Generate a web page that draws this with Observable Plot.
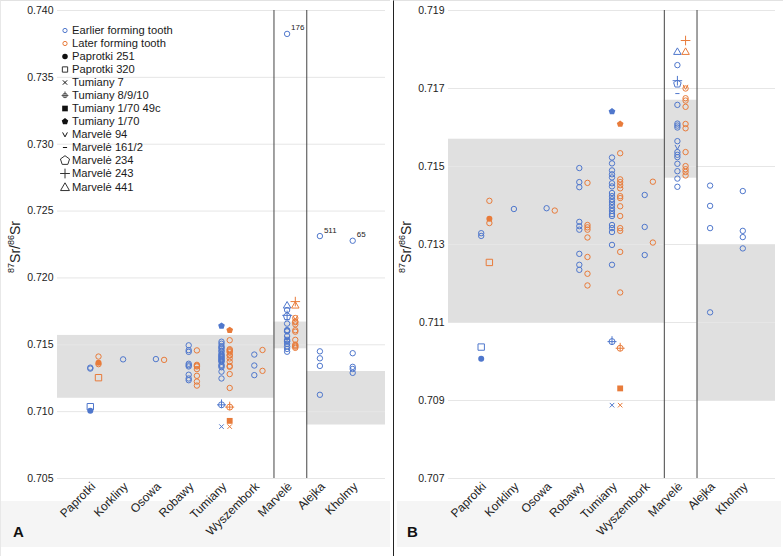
<!DOCTYPE html>
<html><head><meta charset="utf-8">
<script src="https://cdn.jsdelivr.net/npm/d3@7"></script>
<script src="https://cdn.jsdelivr.net/npm/@observablehq/plot@0.6"></script>
<style>
body{margin:0;background:#fff;font-family:"Liberation Sans",Arial,sans-serif;}
#wrap{position:relative;width:783px;height:556px;overflow:hidden;background:#fff}
.panel{position:absolute;top:0;height:556px;box-sizing:border-box}
#pA{left:0;width:390px;border-top:1px solid #e2e2e2;border-left:1px solid #e8e8e8}
#pB{left:393px;width:390px;border-left:1.5px solid #222;border-top:1px solid #e2e2e2}
.strip{position:absolute;left:0;right:0;top:500px;height:46px;background:#f5f5f5}
#pB .strip{left:3px;right:2px}
.panel svg{position:absolute;left:0;top:-1px;background:transparent;overflow:visible}
.letter{position:absolute;top:522px;font-weight:bold;font-size:15px;color:#111}
.ylab{position:absolute;font-size:14px;color:#222;transform:translate(-50%,-50%) rotate(-90deg);white-space:nowrap}
.ylab sup{font-size:9px;vertical-align:6px}
.legrow{position:absolute;left:0;height:13px;line-height:13px;display:flex;align-items:center;font-size:11.2px;color:#1a1a1a;white-space:nowrap}
.legrow svg{position:static;width:14px;height:13px;margin-right:0px}
</style></head>
<body><div id="wrap">
<div class="panel" id="pA"><div class="strip"></div></div>
<div class="panel" id="pB"><div class="strip"></div></div>
</div>
<script>
// ---------- data ----------
const categories = ["Paprotki","Korkliny","Osowa","Robawy","Tumiany","Wyszembork","Marvelė","Alejka","Kholmy"];
const yTicksA = [0.705,0.710,0.715,0.720,0.725,0.730,0.735,0.740];
const yTicksB = [0.707,0.709,0.711,0.713,0.715,0.717,0.719];

// earlier forming tooth, open circles: [site, 87Sr/86Sr]
const earlierCircles = [
 ["Paprotki",0.71329],["Paprotki",0.71322],
 ["Korkliny",0.71391],
 ["Osowa",0.71393],
 ["Robawy",0.71496],["Robawy",0.71460],["Robawy",0.71447],["Robawy",0.71358],["Robawy",0.71347],["Robawy",0.71338],["Robawy",0.71276],["Robawy",0.71248],["Robawy",0.71235],
 ["Tumiany",0.71523],["Tumiany",0.71508],["Tumiany",0.71490],["Tumiany",0.71480],["Tumiany",0.71472],["Tumiany",0.71457],["Tumiany",0.71449],["Tumiany",0.71432],["Tumiany",0.71424],["Tumiany",0.71416],["Tumiany",0.71409],["Tumiany",0.71401],["Tumiany",0.71393],["Tumiany",0.71386],["Tumiany",0.71378],["Tumiany",0.71373],["Tumiany",0.71350],["Tumiany",0.71342],["Tumiany",0.71332],["Tumiany",0.71299],["Tumiany",0.71248],
 ["Wyszembork",0.71427],["Wyszembork",0.71345],["Wyszembork",0.71273],
 ["Marvelė",0.73825],["Marvelė",0.71760],["Marvelė",0.71658],["Marvelė",0.71610],["Marvelė",0.71605],["Marvelė",0.71600],["Marvelė",0.71565],["Marvelė",0.71537],["Marvelė",0.71530],["Marvelė",0.71524],["Marvelė",0.71507],["Marvelė",0.71488],["Marvelė",0.71469],["Marvelė",0.71448],
 ["Alejka",0.72313],["Alejka",0.71451],["Alejka",0.71399],["Alejka",0.71342],["Alejka",0.71126],
 ["Kholmy",0.72278],["Kholmy",0.71437],["Kholmy",0.71335],["Kholmy",0.71319],["Kholmy",0.71290]
];
// later forming tooth, open circles
const laterCircles = [
 ["Paprotki",0.71412],["Paprotki",0.71355],
 ["Osowa",0.71387],
 ["Robawy",0.71458],["Robawy",0.71350],["Robawy",0.71344],["Robawy",0.71338],["Robawy",0.71318],["Robawy",0.71268],["Robawy",0.71225],["Robawy",0.71195],
 ["Tumiany",0.71534],["Tumiany",0.71467],["Tumiany",0.71460],["Tumiany",0.71452],["Tumiany",0.71444],["Tumiany",0.71424],["Tumiany",0.71419],["Tumiany",0.71398],["Tumiany",0.71373],["Tumiany",0.71342],["Tumiany",0.71335],["Tumiany",0.71281],["Tumiany",0.71177],
 ["Wyszembork",0.71461],["Wyszembork",0.71305],
 ["Marvelė",0.71700],["Marvelė",0.71675],["Marvelė",0.71669],["Marvelė",0.71653],["Marvelė",0.71609],["Marvelė",0.71598],["Marvelė",0.71537],["Marvelė",0.71501],["Marvelė",0.71493],["Marvelė",0.71486],["Marvelė",0.71477]
];
// individually marked samples: [sample, tooth, site, value]
const markedSamples = [
 ["Paprotki 251","earlier","Paprotki",0.71007],
 ["Paprotki 251","later","Paprotki",0.71366],
 ["Paprotki 320","earlier","Paprotki",0.71037],
 ["Paprotki 320","later","Paprotki",0.71254],
 ["Tumiany 7","earlier","Tumiany",0.70888],
 ["Tumiany 7","later","Tumiany",0.70888],
 ["Tumiany 8/9/10","earlier","Tumiany",0.71051],
 ["Tumiany 8/9/10","later","Tumiany",0.71034],
 ["Tumiany 1/70 49c","later","Tumiany",0.70931],
 ["Tumiany 1/70","earlier","Tumiany",0.71641],
 ["Tumiany 1/70","later","Tumiany",0.71609],
 ["Marvelė 94","earlier","Marvelė",0.71550],
 ["Marvelė 94","later","Marvelė",0.71704],
 ["Marvelė 161/2","earlier","Marvelė",0.71687],
 ["Marvelė 234","earlier","Marvelė",0.71712],
 ["Marvelė 243","earlier","Marvelė",0.71720],
 ["Marvelė 243","later","Marvelė",0.71823],
 ["Marvelė 441","earlier","Marvelė",0.71794],
 ["Marvelė 441","later","Marvelė",0.71794]
];
// labelled outliers: [site, value, sample id]
const outlierLabels = [["Marvelė",0.73825,"176"],["Alejka",0.72313,"511"],["Kholmy",0.72278,"65"]];
// local baseline ranges: [first site, last site, low, high]
const baselineRanges = [["Paprotki","Wyszembork",0.7110,0.7157],["Marvelė","Marvelė",0.7147,0.7167],["Alejka","Kholmy",0.7090,0.7130]];
const legendLabels = ["Earlier forming tooth","Later forming tooth","Paprotki 251","Paprotki 320","Tumiany 7","Tumiany 8/9/10","Tumiany 1/70 49c","Tumiany 1/70","Marvelė 94","Marvelė 161/2","Marvelė 234","Marvelė 243","Marvelė 441"];

// ---------- styles ----------
const BLUE = "#4f77cc", ORANGE = "#e87b3a";
const toothColor = {earlier: BLUE, later: ORANGE};
const toothOffset = {earlier: 0, later: 0.25};
const rad = s => Math.sqrt(s/Math.PI);
const symPentagon = {draw(c,s){const r=rad(s)*1.1;for(let k=0;k<5;k++){const a=-Math.PI/2+k*2*Math.PI/5;k?c.lineTo(r*Math.cos(a),r*Math.sin(a)):c.moveTo(r*Math.cos(a),r*Math.sin(a));}c.closePath();}};
const symVee = {draw(c,s){const r=rad(s);c.moveTo(-r*0.8,-r*0.7);c.lineTo(0,r*0.8);c.lineTo(r*0.8,-r*0.7);}};
const symDash = {draw(c,s){const r=rad(s);c.moveTo(-r*0.7,0);c.lineTo(r*0.7,0);}};
const symCross = {draw(c,s){const r=rad(s);c.moveTo(r,0);c.arc(0,0,r,0,2*Math.PI);c.moveTo(-r*1.5,0);c.lineTo(r*1.5,0);c.moveTo(0,-r*1.8);c.lineTo(0,r);}};
const symPlus = {draw(c,s){const r=rad(s)*1.2;c.moveTo(-r,0);c.lineTo(r,0);c.moveTo(0,-r);c.lineTo(0,r);}};
const symTimes = {draw(c,s){const r=rad(s)*0.75;c.moveTo(-r,-r);c.lineTo(r,r);c.moveTo(-r,r);c.lineTo(r,-r);}};
const symTri = {draw(c,s){const r=rad(s)*1.2;c.moveTo(0,-r);c.lineTo(r*0.95,r*0.65);c.lineTo(-r*0.95,r*0.65);c.closePath();}};
const sampleStyle = {
 "Paprotki 251":{symbol:"circle",filled:true,r:3},
 "Paprotki 320":{symbol:"square",filled:false,r:3.6},
 "Tumiany 7":{symbol:symTimes,filled:false,r:3},
 "Tumiany 8/9/10":{symbol:symCross,filled:false,r:3},
 "Tumiany 1/70 49c":{symbol:"square",filled:true,r:3.3},
 "Tumiany 1/70":{symbol:symPentagon,filled:true,r:3.2},
 "Marvelė 94":{symbol:symVee,filled:false,r:3},
 "Marvelė 161/2":{symbol:symDash,filled:false,r:3},
 "Marvelė 234":{symbol:symPentagon,filled:false,r:3.6},
 "Marvelė 243":{symbol:symPlus,filled:false,r:4},
 "Marvelė 441":{symbol:symTri,filled:false,r:3.3}
};
const xOf = site => categories.indexOf(site) + 1;

function makePanel(yDomain, yTicks) {
  const inRange = v => v >= yDomain[0] && v <= yDomain[1];
  const marks = [];
  const xMax = categories.length + 1;
  marks.push(Plot.rect(baselineRanges, {
    x1: d => d[0] === categories[0] ? 0 : xOf(d[0]) - 0.4,
    x2: d => d[1] === categories[categories.length-1] ? xMax : xOf(d[1]) + 0.6,
    y1: d => d[2], y2: d => d[3], fill: "#e0e0e0"
  }));
  marks.push(Plot.gridY(yTicks, {stroke: "#e6e6e6", strokeOpacity: 1}));
  marks.push(Plot.ruleX([xOf("Marvelė") - 0.4, xOf("Alejka") - 0.4], {y1: yDomain[0], y2: yDomain[1], stroke: "#444", strokeWidth: 1}));
  marks.push(Plot.dot(earlierCircles.filter(d => inRange(d[1])), {x: d => xOf(d[0]) + toothOffset.earlier, y: d => d[1], r: 2.7, stroke: BLUE, strokeWidth: 1, fill: "none"}));
  marks.push(Plot.dot(laterCircles.filter(d => inRange(d[1])), {x: d => xOf(d[0]) + toothOffset.later, y: d => d[1], r: 2.7, stroke: ORANGE, strokeWidth: 1, fill: "none"}));
  for (const [name, st] of Object.entries(sampleStyle)) {
    for (const tooth of ["earlier","later"]) {
      const rows = markedSamples.filter(d => d[0] === name && d[1] === tooth && inRange(d[3]));
      if (!rows.length) continue;
      const col = toothColor[tooth];
      marks.push(Plot.dot(rows, {x: d => xOf(d[2]) + toothOffset[d[1]], y: d => d[3], symbol: st.symbol, r: st.r,
        fill: st.filled ? col : "none", stroke: st.filled ? "none" : col, strokeWidth: 1}));
    }
  }
  marks.push(Plot.text(outlierLabels.filter(d => inRange(d[1])), {x: d => xOf(d[0]), y: d => d[1], text: d => d[2], dx: 4, dy: -6, textAnchor: "start", fontSize: 8, fill: "#222"}));
  marks.push(Plot.axisY(yTicks, {tickFormat: d3.format(".3f"), tickSize: 0, tickPadding: 4, fontSize: 10.5, label: null, color: "#222"}));
  marks.push(Plot.axisX(d3.range(1, categories.length + 1), {tickFormat: i => categories[i-1], tickRotate: -45, tickSize: 0, tickPadding: 6, dx: 3, fontSize: 12, label: null, color: "#222"}));
  return {marks, xMax};
}

function render(el, opts) {
  const {marks, xMax} = makePanel(opts.yDomain, opts.yTicks);
  const svg = Plot.plot({
    width: opts.width, height: 546,
    marginLeft: opts.ml, marginRight: opts.mr, marginTop: 10, marginBottom: 68,
    x: {domain: [0, xMax], axis: null},
    y: {domain: opts.yDomain, axis: null},
    style: {background: "transparent", fontFamily: "'Liberation Sans', Arial, sans-serif", overflow: "visible"},
    marks
  });
  el.appendChild(svg);
  const yl = document.createElement("div");
  yl.className = "ylab";
  yl.innerHTML = "<sup>87</sup>Sr/<sup>86</sup>Sr";
  yl.style.left = opts.ylx + "px"; yl.style.top = "246px";
  el.appendChild(yl);
  const L = document.createElement("div");
  L.className = "letter"; L.textContent = opts.letter; L.style.left = opts.lx + "px";
  el.appendChild(L);
}

render(document.getElementById("pA"), {yDomain: [0.705, 0.740], yTicks: yTicksA, width: 389, ml: 56, mr: 5, letter: "A", lx: 12, ylx: 13});
render(document.getElementById("pB"), {yDomain: [0.707, 0.719], yTicks: yTicksB, width: 388, ml: 54, mr: 7, letter: "B", lx: 13, ylx: 11});

// ---------- legend (panel A) ----------
const legSymbols = [
 {type: d3.symbolCircle, size: 14, stroke: BLUE, fill: "none"},
 {type: d3.symbolCircle, size: 14, stroke: ORANGE, fill: "none"},
 {type: d3.symbolCircle, size: 24, stroke: "none", fill: "#111"},
 {type: d3.symbolSquare, size: 28, stroke: "#333", fill: "none"},
 {type: symTimes, size: 26, stroke: "#111", fill: "none"},
 {type: symCross, size: 16, stroke: "#555", fill: "none"},
 {type: d3.symbolSquare, size: 32, stroke: "none", fill: "#111"},
 {type: symPentagon, size: 30, stroke: "none", fill: "#111"},
 {type: symVee, size: 28, stroke: "#111", fill: "none"},
 {type: symDash, size: 28, stroke: "#111", fill: "none"},
 {type: symPentagon, size: 60, stroke: "#333", fill: "none"},
 {type: symPlus, size: 52, stroke: "#333", fill: "none"},
 {type: symTri, size: 48, stroke: "#333", fill: "none"}
];
const legTop = 29.3, legStep = 13.06;
const pA = document.getElementById("pA");
legendLabels.forEach((lab, i) => {
  const row = document.createElement("div");
  row.className = "legrow";
  row.style.left = "57px";
  row.style.top = (legTop + i * legStep - 6.5) + "px";
  const s = legSymbols[i];
  const p = d3.symbol(s.type, s.size)();
  row.innerHTML = `<svg viewBox="-7 -6.5 14 13"><path d="${p}" fill="${s.fill}" stroke="${s.stroke}" stroke-width="1"/></svg><span>${lab}</span>`;
  pA.appendChild(row);
});
</script>
</body></html>
